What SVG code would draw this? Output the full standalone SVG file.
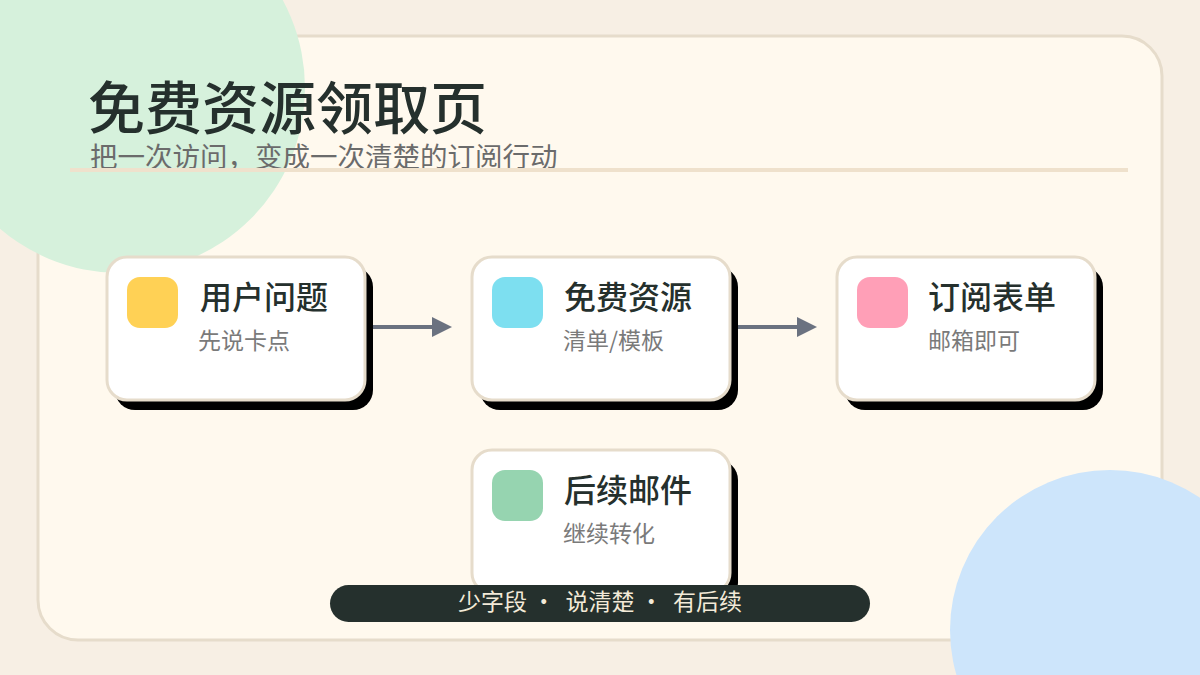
<svg xmlns="http://www.w3.org/2000/svg" width="1200" height="675" viewBox="0 0 1200 675">
<style>
.t{font-family:"Noto Sans CJK SC","Noto Sans",sans-serif}
.card{fill:#fff;stroke:#e6dccb;stroke-width:3}
.sh{fill:#000}
.ct{font-size:32px;font-weight:500;fill:#25302d}
.cs{font-size:23px;fill:#7a7a7a}
.ar{stroke:#6b7280;stroke-width:4;fill:none}
</style>
<defs><marker id="ah" markerWidth="5" markerHeight="5" refX="2" refY="2.5" orient="auto" markerUnits="strokeWidth"><path d="M0,0L5,2.5L0,5Z" fill="#6b7280"/></marker></defs>
<rect width="1200" height="675" fill="#f7efe4"/>
<rect x="38" y="36" width="1124" height="604" rx="40" fill="#fff9ee" stroke="#e6dccb" stroke-width="3"/>
<circle cx="120" cy="88" r="185" fill="#d6f1dc"/>
<circle cx="1110" cy="630" r="160" fill="#cde5fb"/>
<text class="t" x="88" y="129" font-size="57" font-weight="500" fill="#25302d">免费资源领取页</text>
<text class="t" x="90" y="167" font-size="27.5" fill="#6b6b6b">把一次访问，变成一次清楚的订阅行动</text>
<line x1="70" y1="170" x2="1128" y2="170" stroke="#efe1cc" stroke-width="4"/>
<g id="connectors">
<line class="ar" x1="370" y1="327" x2="440" y2="327" marker-end="url(#ah)"/>
<line class="ar" x1="735" y1="327" x2="805" y2="327" marker-end="url(#ah)"/>
</g>
<g id="n1"><rect class="sh" x="115" y="267" width="258" height="143" rx="20"/><rect class="card" x="107" y="257" width="258" height="143" rx="20"/><rect x="127" y="277" width="51" height="51" rx="13" fill="#ffd155"/><text class="t ct" x="200" y="309">用户问题</text><text class="t cs" x="198" y="349">先说卡点</text></g>
<g id="n2"><rect class="sh" x="480" y="267" width="258" height="143" rx="20"/><rect class="card" x="472" y="257" width="258" height="143" rx="20"/><rect x="492" y="277" width="51" height="51" rx="13" fill="#7ddff0"/><text class="t ct" x="564" y="309">免费资源</text><text class="t cs" x="563" y="349">清单/模板</text></g>
<g id="n3"><rect class="sh" x="845" y="267" width="258" height="143" rx="20"/><rect class="card" x="837" y="257" width="258" height="143" rx="20"/><rect x="857" y="277" width="51" height="51" rx="13" fill="#ff9fb7"/><text class="t ct" x="928" y="309">订阅表单</text><text class="t cs" x="928" y="349">邮箱即可</text></g>
<g id="n4"><rect class="sh" x="480" y="460" width="258" height="143" rx="20"/><rect class="card" x="472" y="450" width="258" height="143" rx="20"/><rect x="492" y="470" width="51" height="51" rx="13" fill="#96d4b0"/><text class="t ct" x="564" y="502">后续邮件</text><text class="t cs" x="563" y="542">继续转化</text></g>
<g id="pill"><rect x="330" y="585" width="540" height="37" rx="18.5" fill="#25302d"/><text class="t" x="600" y="610" font-size="23" fill="#f3ead8" text-anchor="middle" xml:space="preserve">少字段 ·  说清楚 ·  有后续</text></g>
</svg>
